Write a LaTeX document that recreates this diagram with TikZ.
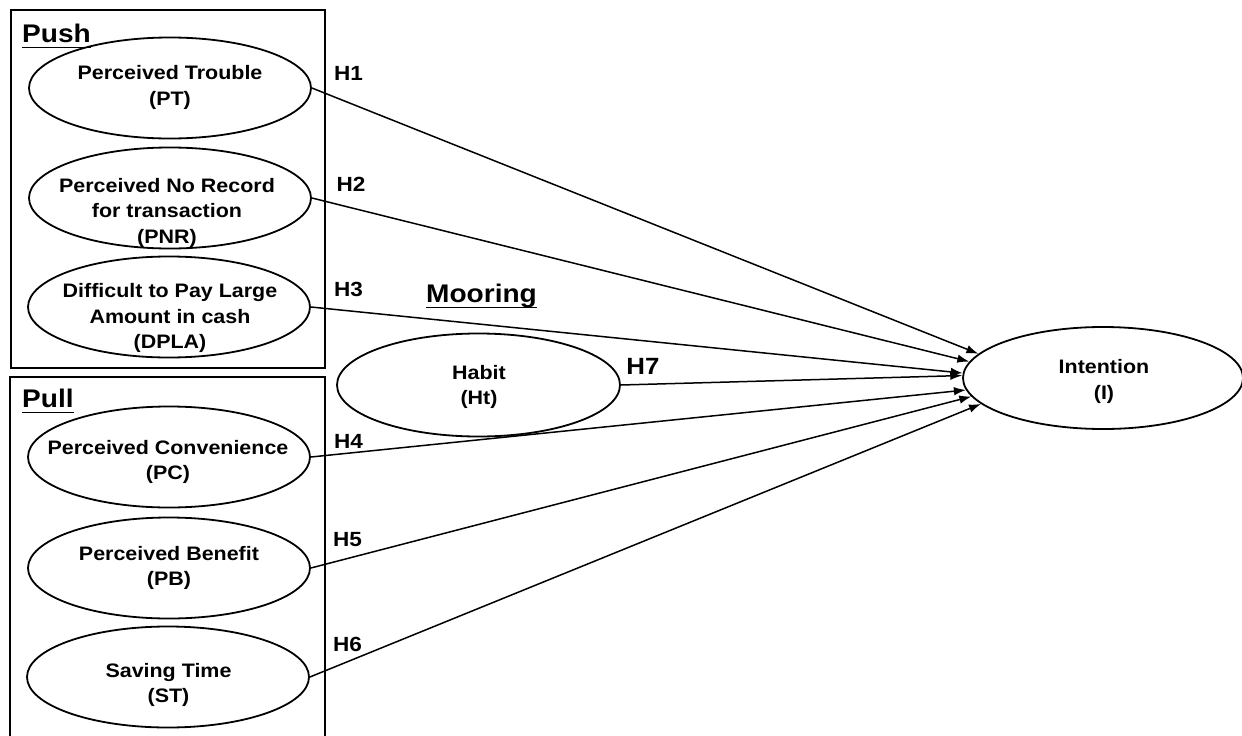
\documentclass[tikz,border=0pt]{standalone}
\usepackage{fontspec}
\setmainfont[FakeStretch=1.1]{Liberation Sans}
\usetikzlibrary{shapes.geometric,arrows.meta}

\begin{document}
\begin{tikzpicture}[x=1pt,y=-1pt,
  construct/.style={ellipse,draw,line width=1.8pt,minimum width=282pt,minimum height=101pt,inner sep=0pt},
  txt/.style={inner sep=0pt,align=center,font=\bfseries\fontsize{19.5}{25.5}\selectfont},
  hyp/.style={inner sep=0pt,font=\bfseries\fontsize{20.5}{24}\selectfont},
  head/.style={inner sep=0pt,anchor=base west,font=\bfseries\fontsize{25.5}{30}\selectfont},
  group/.style={draw,line width=1.8pt},
  uline/.style={line width=1.4pt},
  link/.style={line width=1.5pt,-{Latex[length=12pt,width=8.5pt]}}
]
\useasboundingbox (0,0) rectangle (1242,736);

% group frames
\draw[group] (11,10) rectangle (325,368);
\draw[group] (10,377) rectangle (325,745);

% group headings
\node[head] (push) at (22,42) {Push};
\node[head] (pull) at (22,407) {Pull};
\node[head] (moor) at (426,302) {Mooring};
\draw[uline] ([yshift=-5.5pt]push.base west) -- ([yshift=-5.5pt]push.base east);
\draw[uline] ([yshift=-5.5pt]pull.base west) -- ([yshift=-5.5pt]pull.base east);
\draw[uline] ([yshift=-5.5pt]moor.base west) -- ([yshift=-5.5pt]moor.base east);

% constructs
\node[construct] (PT)   at (170,88)  {};
\node[construct] (PNR)  at (170,198) {};
\node[construct] (DPLA) at (169,307) {};
\node[construct] (PC)   at (169,457) {};
\node[construct] (PB)   at (169,568) {};
\node[construct] (ST)   at (168,677) {};
\node[construct,minimum width=283pt,minimum height=103pt] (Ht) at (478.5,385) {};
\node[construct,minimum width=280pt,minimum height=102pt] (I) at (1103,378) {};

% construct names
\node[txt] (PTt)   at (170,87.5)  {Perceived Trouble\\(PT)};
\node[txt] (PNRt)  at (167,212.5) {Perceived No Record\\for transaction\\(PNR)};
\node[txt] (DPLAt) at (170,318)   {Difficult to Pay Large\\Amount in cash\\(DPLA)};
\node[txt] (PCt)   at (168,462)   {Perceived Convenience\\(PC)};
\node[txt] (PBt)   at (169,568)   {Perceived Benefit\\(PB)};
\node[txt] (STt)   at (168.5,685) {Saving Time\\(ST)};
\node[txt] (Htt)   at (479,387)   {Habit\\(Ht)};
\node[txt] (It)    at (1104,381.5) {Intention\\(I)};

% hypotheses
\draw[link] (PT.east)   -- (I.169.7);
\draw[link] (PNR.east)  -- (I.173.6);
\draw[link] (DPLA.east) -- (I.178.4);
\draw[link] (Ht.east)   -- (I.179.6);
\draw[link] (PC.east)   -- (I.185.5);
\draw[link] (PB.east)   -- (I.188.5);
\draw[link] (ST.east)   -- (I.192.5);

\node[hyp] (h1) at (348.5,73)    {H1};
\node[hyp] (h2) at (351,184.5)   {H2};
\node[hyp] (h3) at (348.5,289.5) {H3};
\node[hyp] (h4) at (348.5,441.5) {H4};
\node[hyp] (h5) at (347.5,539.5) {H5};
\node[hyp] (h6) at (347.5,644.5) {H6};
\node[hyp,font=\bfseries\fontsize{23.5}{28}\selectfont] (h7) at (643,366) {H7};
\end{tikzpicture}
\end{document}
